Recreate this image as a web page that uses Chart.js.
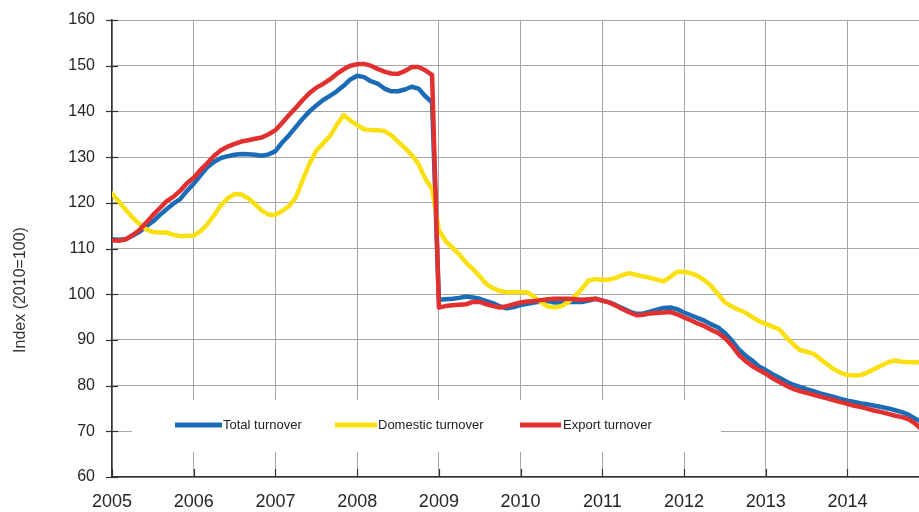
<!DOCTYPE html>
<html>
<head>
<meta charset="utf-8">
<script src="https://cdn.jsdelivr.net/npm/chart.js@4.4.1/dist/chart.umd.min.js"></script>
<style>
  html, body { margin: 0; padding: 0; background: #ffffff; }
  #wrap { width: 919px; height: 512px; position: relative; }
</style>
</head>
<body>
<div id="wrap"><canvas id="c" width="919" height="512"></canvas></div>
<script>
// ---- DATA (monthly, Jan 2005 .. Dec 2014) ----
const yearLabels = ['2005','2006','2007','2008','2009','2010','2011','2012','2013','2014'];
const seriesNames = ['Total turnover', 'Domestic turnover', 'Export turnover'];

const totalTurnover = [
  112.0,111.9,112.0,112.8,113.6,114.8,115.9,117.3,118.6,119.8,120.8,122.6,
  124.2,126.0,127.8,129.0,129.8,130.2,130.5,130.7,130.6,130.5,130.3,130.6,
  131.3,133.2,134.8,136.6,138.4,140.0,141.3,142.5,143.4,144.4,145.6,147.0,
  147.8,147.5,146.6,146.1,145.0,144.4,144.4,144.8,145.4,145.0,143.3,142.0,
  98.8,98.9,99.0,99.2,99.5,99.3,99.0,98.5,98.0,97.3,96.9,97.2,
  97.6,97.9,98.2,98.4,98.5,98.2,98.2,98.3,98.3,98.3,98.6,99.0,
  98.6,98.2,97.6,96.9,96.2,95.7,95.8,96.2,96.6,97.0,97.1,96.7,
  96.0,95.4,94.8,94.2,93.4,92.7,91.5,89.9,88.0,86.6,85.5,84.2,
  83.4,82.5,81.7,80.9,80.2,79.7,79.2,78.8,78.3,77.9,77.5,77.1,
  76.7,76.4,76.1,75.9,75.6,75.3,75.0,74.6,74.2,73.6,72.7,72.0
];
const domesticTurnover = [
  122.0,120.3,118.5,116.8,115.4,114.2,113.6,113.5,113.5,113.0,112.7,112.8,
  112.8,113.8,115.3,117.3,119.5,121.0,121.9,121.8,121.0,119.7,118.3,117.4,
  117.4,118.2,119.3,121.2,125.0,128.6,131.4,133.0,134.6,137.0,139.2,138.0,
  137.0,136.1,135.9,135.9,135.7,134.8,133.4,132.0,130.5,128.5,125.3,123.0,
  114.0,111.6,110.2,108.7,106.9,105.5,103.9,102.2,101.2,100.7,100.4,100.4,
  100.4,100.4,99.4,98.2,97.3,97.1,97.4,98.3,99.6,101.2,103.0,103.3,
  103.1,103.2,103.6,104.2,104.6,104.2,103.9,103.6,103.2,102.8,103.8,104.9,
  104.9,104.6,104.0,103.0,101.8,100.0,98.2,97.3,96.6,96.0,95.0,94.1,
  93.5,92.9,92.3,90.6,89.1,87.8,87.4,87.0,85.8,84.7,83.6,82.8,
  82.3,82.2,82.3,82.9,83.7,84.4,85.1,85.5,85.2,85.1,85.1,85.1
];
const exportTurnover = [
  111.8,111.7,112.0,112.9,114.0,115.6,117.3,118.8,120.3,121.3,122.6,124.3,
  125.5,127.2,128.7,130.3,131.5,132.3,132.9,133.4,133.7,134.0,134.3,135.0,
  135.9,137.5,139.2,140.8,142.5,144.0,145.2,146.0,147.0,148.2,149.2,150.0,
  150.3,150.4,150.0,149.3,148.7,148.3,148.2,148.8,149.7,149.7,149.0,148.0,
  97.1,97.4,97.6,97.7,97.8,98.3,98.3,97.8,97.4,97.1,97.4,97.8,
  98.2,98.4,98.5,98.7,98.9,99.0,99.0,99.0,98.9,98.8,98.9,99.0,
  98.6,98.2,97.5,96.7,96.0,95.4,95.5,95.8,95.9,96.0,96.1,95.6,
  94.9,94.3,93.6,93.0,92.2,91.5,90.4,88.8,86.8,85.4,84.3,83.4,
  82.6,81.6,80.8,80.0,79.3,78.8,78.4,78.0,77.6,77.2,76.8,76.4,
  76.0,75.6,75.3,74.9,74.5,74.2,73.8,73.4,73.1,72.6,71.6,70.3
];
const yTickMin = 60, yTickMax = 160, yTickStep = 10;
const yAxisTitle = 'Index (2010=100)';

// ---- helpers ----
const toPoints = arr => arr.map((v, i) => ({ x: i, y: v }));
const FONT = '"Liberation Sans", Arial, sans-serif';
const colors = ['#1b6cb7', '#fbe011', '#e1302f'];

const decorPlugin = {
  id: 'decor',
  beforeDatasetsDraw(chart) {
    const ctx = chart.ctx;
    const ca = chart.chartArea;
    const xs = chart.scales.x, ys = chart.scales.y;
    ctx.save();
    // legend box
    ctx.fillStyle = '#ffffff';
    ctx.fillRect(132, 400, 589, 52);
    const items = [
      { x0: 175, x1: 222, tx: 223 },
      { x0: 335, x1: 377, tx: 378 },
      { x0: 520, x1: 561, tx: 563 }
    ];
    ctx.font = '13px ' + FONT;
    ctx.textBaseline = 'middle';
    ctx.textAlign = 'left';
    items.forEach((it, k) => {
      const ds = chart.data.datasets[k];
      ctx.strokeStyle = ds.borderColor;
      ctx.lineWidth = 5;
      ctx.lineCap = 'butt';
      ctx.beginPath();
      ctx.moveTo(it.x0, 425);
      ctx.lineTo(it.x1, 425);
      ctx.stroke();
      ctx.fillStyle = '#222222';
      ctx.fillText(ds.label, it.tx, 425);
    });
    // tick marks
    ctx.strokeStyle = '#333333';
    ctx.lineWidth = 1.2;
    ys.ticks.forEach(t => {
      const py = Math.round(ys.getPixelForValue(t.value)) + 0.5;
      ctx.beginPath();
      ctx.moveTo(ca.left - 6, py);
      ctx.lineTo(ca.left + 6, py);
      ctx.stroke();
    });
    xs.ticks.forEach(t => {
      const px = Math.round(xs.getPixelForValue(t.value)) + 0.5;
      ctx.beginPath();
      ctx.moveTo(px, ca.bottom - 8);
      ctx.lineTo(px, ca.bottom);
      ctx.stroke();
    });
    ctx.restore();
  },
  afterDraw(chart) {
    const ctx = chart.ctx;
    ctx.save();
    ctx.translate(21, 290);
    ctx.rotate(-Math.PI / 2);
    ctx.font = '16px ' + FONT;
    ctx.fillStyle = '#333333';
    ctx.textAlign = 'center';
    ctx.textBaseline = 'middle';
    ctx.fillText(yAxisTitle, 0, 0);
    ctx.restore();
  }
};

const datasetsSrc = [totalTurnover, domesticTurnover, exportTurnover];
const drawOrder = [2, 1, 0];

new Chart(document.getElementById('c'), {
  type: 'line',
  data: {
    datasets: datasetsSrc.map((arr, k) => ({
      label: seriesNames[k],
      data: toPoints(arr),
      borderColor: colors[k],
      backgroundColor: colors[k],
      borderWidth: 4.5,
      pointRadius: 0,
      tension: 0,
      fill: false,
      order: drawOrder[k],
      borderJoinStyle: 'round',
      borderCapStyle: 'round'
    }))
  },
  options: {
    responsive: false,
    animation: false,
    devicePixelRatio: 1,
    layout: { padding: { top: 20, right: 0, left: 0, bottom: 0 } },
    plugins: {
      legend: { display: false },
      tooltip: { enabled: false },
      title: { display: false }
    },
    scales: {
      x: {
        type: 'linear',
        min: 0,
        max: 118.5,
        afterBuildTicks(scale) {
          scale.ticks = yearLabels.map((_, k) => ({ value: k * 12 }));
        },
        afterFit(scale) { scale.height = 35; scale.paddingLeft = 0; scale.paddingRight = 0; },
        ticks: {
          autoSkip: false,
          maxRotation: 0,
          padding: 14,
          color: '#262626',
          font: { family: FONT, size: 18 },
          callback: (v, idx) => yearLabels[idx]
        },
        grid: { color: '#a6a6a6', lineWidth: 1, drawTicks: false },
        border: { display: true, color: '#333333', width: 1.5 }
      },
      y: {
        type: 'linear',
        min: yTickMin,
        max: yTickMax,
        afterFit(scale) { scale.width = 112; scale.paddingTop = 0; scale.paddingBottom = 0; },
        ticks: {
          stepSize: yTickStep,
          padding: 17,
          color: '#262626',
          font: { family: FONT, size: 16 }
        },
        grid: { color: '#a6a6a6', lineWidth: 1, drawTicks: false },
        border: { display: true, color: '#333333', width: 1.5 }
      }
    }
  },
  plugins: [decorPlugin]
});
</script>
</body>
</html>
